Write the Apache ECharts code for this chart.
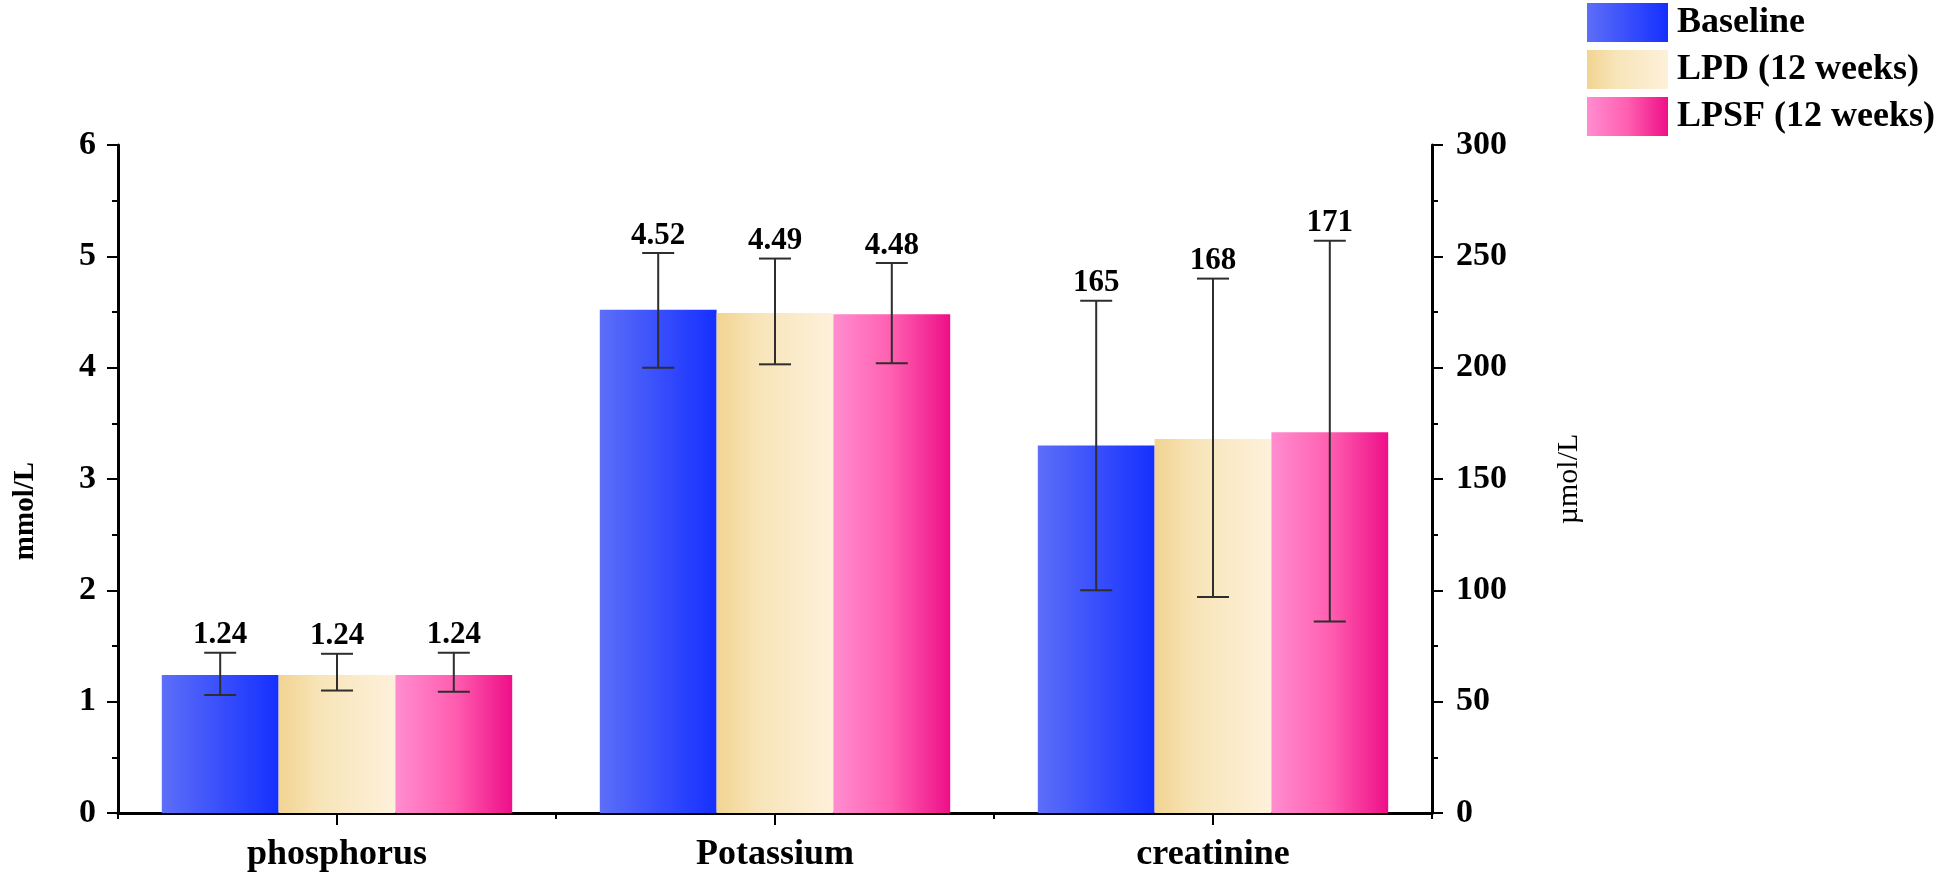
<!DOCTYPE html>
<html>
<head>
<meta charset="utf-8">
<script src="https://cdn.jsdelivr.net/npm/echarts@6/dist/echarts.min.js"></script>
<style>html,body{margin:0;padding:0;background:#fff;}#c{width:1944px;height:876px;}</style>
</head>
<body>
<div id="c"></div>
<script>
// ---- data ----
const categories = ['phosphorus', 'Potassium', 'creatinine'];
const categoryAxis = [0, 0, 1]; // 0 = left axis (mmol/L), 1 = right axis (µmol/L)
const seriesNames = ['Baseline', 'LPD (12 weeks)', 'LPSF (12 weeks)'];
const baseline = [1.24, 4.52, 165];
const lpd = [1.24, 4.49, 168];
const lpsf = [1.24, 4.48, 171];
const baselineLow = [1.06, 4.00, 100];
const baselineHigh = [1.44, 5.03, 230];
const lpdLow = [1.10, 4.03, 97];
const lpdHigh = [1.43, 4.98, 240];
const lpsfLow = [1.09, 4.04, 86];
const lpsfHigh = [1.44, 4.94, 257];
const leftTicks = { min: 0, max: 6, interval: 1 };
const rightTicks = { min: 0, max: 300, interval: 50 };

// ---- styles ----
const FONT = '"Times New Roman", "Liberation Serif", serif';
const values = [baseline, lpd, lpsf];
const lows = [baselineLow, lpdLow, lpsfLow];
const highs = [baselineHigh, lpdHigh, lpsfHigh];
const grads = [
  [[0, '#5d6ef8'], [1, '#1530ff']],
  [[0, '#f2d492'], [0.35, '#f7e4b8'], [1, '#fdf1da']],
  [[0, '#ff8dd0'], [0.5, '#ff5fb0'], [1, '#ee0f88']]
];
function grad(stops) {
  return new echarts.graphic.LinearGradient(0, 0, 1, 0, stops.map(s => ({ offset: s[0], color: s[1] })));
}
const CAT_GAP = 0.2;

const series = [];
[0, 1].forEach(ax => {
  seriesNames.forEach((name, k) => {
    series.push({
      type: 'bar',
      name: name,
      xAxisIndex: ax,
      yAxisIndex: ax,
      barGap: '0%',
      barCategoryGap: (CAT_GAP * 100) + '%',
      itemStyle: { color: grad(grads[k]) },
      data: values[k].map((v, i) => categoryAxis[i] === ax ? v : '-'),
      z: 2
    });
  });
});

[0, 1].forEach(ax => {
  const errData = [];
  const labels = [];
  seriesNames.forEach((name, k) => {
    categories.forEach((c, i) => {
      if (categoryAxis[i] !== ax) return;
      errData.push([i, lows[k][i], highs[k][i], k]);
      labels.push(String(values[k][i]));
    });
  });
  series.push({
    type: 'custom',
    xAxisIndex: ax,
    yAxisIndex: ax,
    z: 5,
    silent: true,
    data: errData,
    renderItem: function (params, api) {
      const cat = api.value(0), lo = api.value(1), hi = api.value(2), k = api.value(3);
      const band = api.size([1, 0])[0];
      const bw = band * (1 - CAT_GAP) / 3;
      const pHi = api.coord([cat, hi]);
      const pLo = api.coord([cat, lo]);
      const x = pHi[0] + (k - 1) * bw;
      const cap = 16;
      const st = { stroke: '#2e2e2e', lineWidth: 2 };
      return {
        type: 'group',
        children: [
          { type: 'line', shape: { x1: x, y1: pHi[1], x2: x, y2: pLo[1] }, style: st },
          { type: 'line', shape: { x1: x - cap, y1: pHi[1], x2: x + cap, y2: pHi[1] }, style: st },
          { type: 'line', shape: { x1: x - cap, y1: pLo[1], x2: x + cap, y2: pLo[1] }, style: st },
          { type: 'text', x: x, y: pHi[1] - 2, style: {
              text: labels[params.dataIndex], fill: '#000',
              font: 'bold 31px ' + FONT, align: 'center', verticalAlign: 'bottom' } }
        ]
      };
    }
  });
});

const tickLabel = { color: '#000', fontFamily: FONT, fontWeight: 'bold', fontSize: 34 };
const axisLine = { show: true, lineStyle: { color: '#000', width: 3 } };

const option = {
  backgroundColor: '#fff',
  animation: false,
  legend: {
    data: seriesNames,
    orient: 'vertical',
    left: 1587,
    top: 3,
    padding: 0,
    itemWidth: 81,
    itemHeight: 39,
    itemGap: 8,
    icon: 'rect',
    textStyle: { color: '#000', fontFamily: FONT, fontWeight: 'bold', fontSize: 36, padding: [0, 0, 0, 4] }
  },
  grid: { left: 118, right: 512, top: 145, bottom: 63, containLabel: false },
  xAxis: [
    {
      type: 'category', data: categories, position: 'bottom',
      axisLine: axisLine,
      axisTick: { show: true, alignWithLabel: true, length: 12, lineStyle: { color: '#000', width: 2 } },
      axisLabel: { margin: 24, fontSize: 36, color: '#000', fontFamily: FONT, fontWeight: 'bold' },
      splitLine: { show: false }
    },
    {
      type: 'category', data: categories, position: 'bottom',
      axisLine: { show: false },
      axisTick: { show: true, length: 6, lineStyle: { color: '#000', width: 2 } },
      axisLabel: { show: false },
      splitLine: { show: false }
    }
  ],
  yAxis: [
    {
      type: 'value', position: 'left',
      min: leftTicks.min, max: leftTicks.max, interval: leftTicks.interval,
      name: 'mmol/L', nameLocation: 'middle', nameGap: 78,
      nameTextStyle: { color: '#000', fontFamily: FONT, fontWeight: 'bold', fontSize: 29, padding: [0, 64, 0, 0] },
      axisLine: axisLine,
      axisTick: { show: true, length: 11, lineStyle: { color: '#000', width: 2 } },
      minorTick: { show: true, splitNumber: 2, length: 6, lineStyle: { color: '#000', width: 2 } },
      axisLabel: Object.assign({ margin: 22 }, tickLabel),
      splitLine: { show: false }
    },
    {
      type: 'value', position: 'right',
      min: rightTicks.min, max: rightTicks.max, interval: rightTicks.interval,
      name: 'µmol/L', nameLocation: 'middle', nameGap: 122,
      nameTextStyle: { color: '#000', fontFamily: FONT, fontWeight: 'normal', fontSize: 30 },
      axisLine: axisLine,
      axisTick: { show: true, length: 11, lineStyle: { color: '#000', width: 2 } },
      minorTick: { show: true, splitNumber: 2, length: 6, lineStyle: { color: '#000', width: 2 } },
      axisLabel: Object.assign({ margin: 24 }, tickLabel),
      splitLine: { show: false }
    }
  ],
  series: series
};

const chart = echarts.init(document.getElementById('c'), null, { renderer: 'canvas' });
chart.setOption(option);
</script>
</body>
</html>
